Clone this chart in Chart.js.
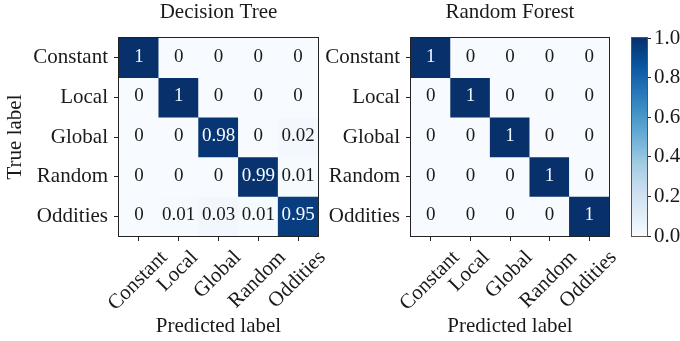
<!DOCTYPE html>
<html>
<head>
<meta charset="utf-8">
<script src="https://cdn.jsdelivr.net/npm/chart.js@4/dist/chart.umd.min.js"></script>
<style>
  html, body { margin: 0; padding: 0; background: #ffffff; }
  #wrap { position: relative; width: 680px; height: 341px; }
  #wrap canvas { position: absolute; left: 0; top: 0; pointer-events: none; }
</style>
</head>
<body>
<div id="wrap">
  <canvas id="dt" width="680" height="341"></canvas>
  <canvas id="rf" width="680" height="341"></canvas>
  <canvas id="cb" width="680" height="341"></canvas>
</div>
<script>
// Class names (rows = true label, columns = predicted label)
const classLabels = ['Constant', 'Local', 'Global', 'Random', 'Oddities'];

// Normalised confusion matrices, one row per true class
const decisionTreeMatrix = [
  [1, 0, 0, 0, 0],
  [0, 1, 0, 0, 0],
  [0, 0, 0.98, 0, 0.02],
  [0, 0, 0, 0.99, 0.01],
  [0, 0.01, 0.03, 0.01, 0.95]
];
const randomForestMatrix = [
  [1, 0, 0, 0, 0],
  [0, 1, 0, 0, 0],
  [0, 0, 1, 0, 0],
  [0, 0, 0, 1, 0],
  [0, 0, 0, 0, 1]
];

// Colour bar range and tick values
const colorbarRange = [0, 1];
const colorbarTicks = [0, 0.2, 0.4, 0.6, 0.8, 1.0];

// "Blues" colour map stops
const bluesStops = ['#f7fbff', '#deebf7', '#c6dbef', '#9ecae1', '#6baed6',
                    '#4292c6', '#2171b5', '#08519c', '#08306b'];

const FONT = "'Liberation Serif', 'Times New Roman', serif";
const TEXT = '#1a1a1a';
const SPINE = '#222222';
Chart.defaults.font.family = FONT;
Chart.defaults.color = TEXT;

function hexToRgb(h) {
  return [parseInt(h.slice(1, 3), 16), parseInt(h.slice(3, 5), 16), parseInt(h.slice(5, 7), 16)];
}
function blues(v) {
  const t = Math.max(0, Math.min(1, v)) * (bluesStops.length - 1);
  const i = Math.min(Math.floor(t), bluesStops.length - 2);
  const f = t - i;
  const a = hexToRgb(bluesStops[i]), b = hexToRgb(bluesStops[i + 1]);
  const c = a.map((x, k) => Math.round(x + (b[k] - x) * f));
  return `rgb(${c[0]},${c[1]},${c[2]})`;
}

// Cell values, frame and rotated predicted-class labels
const matrixDecor = {
  id: 'matrixDecor',
  afterDatasetsDraw(chart, args, opts) {
    const ctx = chart.ctx;
    const matrix = opts.matrix;
    const ca = chart.chartArea;
    ctx.save();
    // values inside cells
    ctx.font = `19px ${FONT}`;
    ctx.textAlign = 'center';
    ctx.textBaseline = 'middle';
    chart.data.datasets.forEach((ds, r) => {
      chart.getDatasetMeta(r).data.forEach((bar, c) => {
        const v = matrix[r][c];
        ctx.fillStyle = v > 0.5 ? '#f7fbff' : TEXT;
        ctx.fillText(String(v), bar.x, (bar.y + bar.base) / 2 - 1);
      });
    });
    // frame
    ctx.strokeStyle = SPINE;
    ctx.lineWidth = 1;
    ctx.strokeRect(Math.round(ca.left) - 0.5, Math.round(ca.top) - 0.5,
                   Math.round(ca.right - ca.left) + 1, Math.round(ca.bottom - ca.top) + 1);
    // rotated x tick labels, centred on their ticks
    const xs = chart.scales.x;
    const size = 21;
    ctx.font = `${size}px ${FONT}`;
    ctx.fillStyle = TEXT;
    xs.ticks.forEach((t, i) => {
      const label = classLabels[i];
      const L = ctx.measureText(label).width;
      const px = xs.getPixelForTick(i) - 1;
      const cy = ca.bottom + 11 + (L + size) * Math.SQRT1_2 / 2;
      ctx.save();
      ctx.translate(px, cy);
      ctx.rotate(-Math.PI / 4);
      ctx.fillText(label, 0, 0);
      ctx.restore();
    });
    ctx.restore();
  }
};

function matrixChart(id, title, matrix, showYTitle, pad, yWidth) {
  return new Chart(document.getElementById(id), {
    type: 'bar',
    data: {
      labels: classLabels,
      datasets: matrix.map((row, r) => ({
        label: classLabels[r],
        data: row.map(() => [r - 0.5, r + 0.5]),
        backgroundColor: (c) => blues(matrix[r][c.dataIndex]),
        borderWidth: 0,
        barPercentage: 1,
        categoryPercentage: 1
      }))
    },
    options: {
      responsive: false,
      animation: false,
      devicePixelRatio: 1,
      layout: { padding: pad },
      plugins: {
        legend: { display: false },
        tooltip: { enabled: false },
        title: {
          display: true, text: title, fullSize: false, color: TEXT,
          font: { size: 21, weight: 'normal', family: FONT },
          padding: { top: 0, bottom: 12.8 }
        },
        matrixDecor: { matrix }
      },
      scales: {
        x: {
          type: 'category',
          stacked: true,
          offset: true,
          border: { display: false },
          grid: { offset: false, drawOnChartArea: false, drawTicks: true, tickLength: 5, color: SPINE },
          ticks: { display: false },
          title: { display: true, text: 'Predicted label', color: TEXT,
                   font: { size: 21, family: FONT }, padding: { top: 4, bottom: 2 } },
          afterFit: (s) => { s.height = 105; }
        },
        y: {
          type: 'linear',
          min: -0.5, max: 4.5,
          reverse: true,
          border: { display: false },
          grid: { drawOnChartArea: false, drawTicks: true, tickLength: 5, color: SPINE },
          afterBuildTicks: (s) => { s.ticks = classLabels.map((_, i) => ({ value: i })); },
          ticks: { padding: 6, color: TEXT, font: { size: 21, family: FONT },
                   callback: (v) => classLabels[v] },
          title: { display: showYTitle, text: 'True label', color: TEXT,
                   font: { size: 21, family: FONT }, padding: { top: 3, bottom: 4 } },
          afterFit: (s) => { s.width = yWidth; }
        }
      }
    },
    plugins: [matrixDecor]
  });
}

matrixChart('dt', 'Decision Tree', decisionTreeMatrix, true,
            { left: 0, right: 362, top: 0, bottom: 0 }, 119);
matrixChart('rf', 'Random Forest', randomForestMatrix, false,
            { left: 311, right: 71, top: 0, bottom: 0 }, 100);

// Colour bar outline
const cbFrame = {
  id: 'cbFrame',
  afterDatasetsDraw(chart) {
    const ca = chart.chartArea, ctx = chart.ctx;
    ctx.save();
    ctx.strokeStyle = '#555555';
    ctx.lineWidth = 1;
    ctx.strokeRect(Math.round(ca.left) - 0.5, Math.round(ca.top) - 0.5,
                   Math.round(ca.right - ca.left) + 1, Math.round(ca.bottom - ca.top) + 1);
    ctx.restore();
  }
};

new Chart(document.getElementById('cb'), {
  type: 'bar',
  data: {
    labels: ['scale'],
    datasets: [{
      data: [colorbarRange],
      backgroundColor: (c) => {
        const ch = c.chart;
        if (!ch.chartArea) return bluesStops[0];
        const y0 = ch.scales.y.getPixelForValue(colorbarRange[0]);
        const y1 = ch.scales.y.getPixelForValue(colorbarRange[1]);
        const g = ch.ctx.createLinearGradient(0, y0, 0, y1);
        bluesStops.forEach((col, i) => g.addColorStop(i / (bluesStops.length - 1), col));
        return g;
      },
      borderWidth: 0,
      barPercentage: 1,
      categoryPercentage: 1
    }]
  },
  options: {
    responsive: false,
    animation: false,
    devicePixelRatio: 1,
    layout: { padding: { left: 632, right: 0, top: 38, bottom: 105 } },
    plugins: { legend: { display: false }, tooltip: { enabled: false } },
    scales: {
      x: { display: false, offset: true },
      y: {
        position: 'right',
        min: colorbarRange[0], max: colorbarRange[1],
        border: { display: false },
        grid: { drawOnChartArea: false, drawTicks: true, tickLength: 4, color: SPINE },
        afterBuildTicks: (s) => { s.ticks = colorbarTicks.map((v) => ({ value: v })); },
        ticks: { padding: 3, color: TEXT, font: { size: 21, family: FONT },
                 callback: (v) => v.toFixed(1) },
        afterFit: (s) => { s.width = 33; }
      }
    }
  },
  plugins: [cbFrame]
});
</script>
</body>
</html>
